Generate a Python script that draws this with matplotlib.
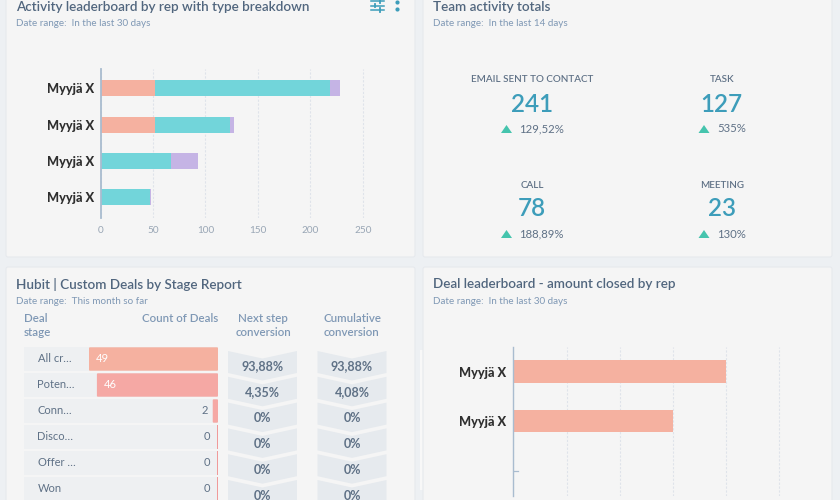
#!/usr/bin/env python3
"""HubSpot style sales dashboard with four report cards."""
import matplotlib

matplotlib.use("Agg")
import matplotlib.pyplot as plt  # noqa: E402
from matplotlib.patches import FancyBboxPatch, Polygon, Rectangle  # noqa: E402

plt.rcParams["font.family"] = ["Lato", "DejaVu Sans"]

W, H = 840, 500

# activity leaderboard
reps = ["Myyjä X", "Myyjä X", "Myyjä X", "Myyjä X"]
emails = [52, 52, 0, 0]
tasks = [167, 71, 67, 47]
calls = [9, 4, 26, 1]
activity_ticks = [0, 50, 100, 150, 200, 250]

# team totals
kpi_labels = ["EMAIL SENT TO CONTACT", "TASK", "CALL", "MEETING"]
kpi_values = ["241", "127", "78", "23"]
kpi_deltas = ["129,52%", "535%", "188,89%", "130%"]

# deals by stage
stages = ["All cr…", "Poten…", "Conn…", "Disco…", "Offer …", "Won"]
stage_counts = [49, 46, 2, 0, 0, 0]
next_step = ["93,88%", "4,35%", "0%", "0%", "0%", "0%"]
cumulative = ["93,88%", "4,08%", "0%", "0%", "0%", "0%"]

# deal leaderboard, the axis has no labels so units are arbitrary
deal_reps = ["Myyjä X", "Myyjä X", ""]
deal_amounts = [4, 3, 0]
deal_ticks = [0, 1, 2, 3, 4, 5]

SALMON = "#f5b1a0"
TEAL = "#72d5da"
PURPLE = "#c5b4e5"
PINK = "#f5a8a4"
CARD = "#f5f5f5"
PAGE = "#edf0f3"
TITLE = "#51667e"
SUB = "#7f98b5"
TICK = "#99a6b5"
NUM = "#3d9dba"
GREEN = "#45c4ad"
BODY = "#5f7186"


def px_axes(fig, left, top, right, bottom):
    return fig.add_axes([left / W, 1 - bottom / H, (right - left) / W, (bottom - top) / H])


def style_bar_axes(ax, ticks):
    ax.patch.set_alpha(0)
    for side in ["top", "right", "bottom"]:
        ax.spines[side].set_visible(False)
    ax.spines["left"].set_color("#a9bccf")
    ax.spines["left"].set_linewidth(1.3)
    ax.set_xticks(ticks)
    ax.grid(True, axis="x", color="#dfe3ea", linewidth=0.8, linestyle=(0, (2, 1.5)))
    ax.set_axisbelow(True)
    ax.invert_yaxis()


fig = plt.figure(figsize=(W / 100, H / 100), dpi=100, facecolor=PAGE)

bg = fig.add_axes([0, 0, 1, 1])
bg.set_xlim(0, W)
bg.set_ylim(H, 0)
bg.axis("off")

# cards
bg.add_patch(Rectangle((420, 350), 6, 140, fc="#f8f8f8", ec="none"))
for x0, y0, x1, y1 in [(6, -10, 415, 257), (423, -10, 832, 257), (6, 267, 415, 510), (423, 267, 832, 510)]:
    bg.add_patch(FancyBboxPatch((x0 + 2, y0 + 2), x1 - x0 - 4, y1 - y0 - 4, boxstyle="round,pad=2",
                                fc=CARD, ec="#e6e9ed", lw=0.8))

for x, y, title, sub in [
    (16, 7, "Activity leaderboard by rep with type breakdown", "Date range:  In the last 30 days"),
    (433, 7, "Team activity totals", "Date range:  In the last 14 days"),
    (16, 284.5, "Hubit | Custom Deals by Stage Report", "Date range:  This month so far"),
    (433, 284.5, "Deal leaderboard - amount closed by rep", "Date range:  In the last 30 days"),
]:
    bg.text(x, y, title, color=TITLE, fontsize=9.7, fontweight="semibold", va="center")
    bg.text(x, y + 17, sub, color=SUB, fontsize=7.15, va="center")

# filter and menu icons
for y, kx in [(1, 380), (5.5, 375), (10, 380)]:
    bg.plot([371, 384], [y, y], color=NUM, lw=1.1)
    bg.plot([kx, kx], [y - 1.8, y + 1.8], color=NUM, lw=1.3)
bg.scatter([396.5, 396.5], [2, 9], s=9, color=NUM, lw=0)

# activity leaderboard
ax1 = px_axes(fig, 100.5, 69, 368, 218)
style_bar_axes(ax1, activity_ticks)
lefts = [0, 0, 0, 0]
for vals, col in [(emails, SALMON), (tasks, TEAL), (calls, PURPLE)]:
    ax1.barh(range(len(reps)), vals, left=lefts, height=0.44, color=col)
    lefts = [a + b for a, b in zip(lefts, vals)]
ax1.set_xlim(0, 255)
ax1.set_ylim(3.57, -0.53)
ax1.set_yticks(range(len(reps)), reps, fontsize=9.2, fontweight="black", color="#2f2f2f")
ax1.tick_params(axis="y", length=0, pad=4.5)
ax1.tick_params(axis="x", length=0, pad=6, labelsize=7.2, labelcolor=TICK)

# team totals
kpi_x = [532.3, 721.7, 532.3, 721.7]
kpi_y = [80, 80, 185, 185]
tri_x = [506.5, 704, 506.5, 704]
for i, label in enumerate(kpi_labels):
    bg.text(kpi_x[i], kpi_y[i], label, color=BODY, fontsize=7.1, fontweight="semibold", ha="center", va="center")
    bg.text(kpi_x[i], kpi_y[i] + 24, kpi_values[i], color=NUM, fontsize=17.5, fontweight="semibold",
            ha="center", va="center")
    ty = kpi_y[i] + 49
    bg.add_patch(Polygon([(tri_x[i] - 5.5, ty + 4), (tri_x[i] + 5.5, ty + 4), (tri_x[i], ty - 4)], fc=GREEN, ec="none"))
    bg.text(tri_x[i] + 13, ty, kpi_deltas[i], color=BODY, fontsize=8.2, va="center")

# funnel headers
bg.text(24, 318, "Deal", color=SUB, fontsize=8.3, va="center", fontweight="semibold")
bg.text(24, 332.5, "stage", color=SUB, fontsize=8.3, va="center", fontweight="semibold")
bg.text(218, 318, "Count of Deals", color=SUB, fontsize=8.3, va="center", ha="right", fontweight="semibold")
for cx, l1, l2 in [(263, "Next step", "conversion"), (352, "Cumulative", "conversion")]:
    bg.text(cx, 318.5, l1, color=SUB, fontsize=8.3, va="center", ha="center", fontweight="semibold")
    bg.text(cx, 332.5, l2, color=SUB, fontsize=8.3, va="center", ha="center", fontweight="semibold")

# funnel rows
row_h = 23.4
step = 26
px_per_deal = 129 / 49
for i, stage in enumerate(stages):
    top = 347.3 + i * step
    bg.add_patch(Rectangle((24, top), 194, row_h, fc="#eef0f2", ec="none"))
    bg.text(37.5, top + row_h / 2, stage, color=BODY, fontsize=8, va="center")
    w = stage_counts[i] * px_per_deal
    col = SALMON if i == 0 else PINK
    if stage_counts[i] > 10:
        bg.add_patch(FancyBboxPatch((218 - w + 1, top + 1), w - 2, row_h - 2, boxstyle="round,pad=1", fc=col, ec="none"))
        bg.text(218 - w + 6.5, top + row_h / 2, str(stage_counts[i]), color="white", fontsize=8, va="center")
    elif w:
        bg.add_patch(FancyBboxPatch((218 - w + 1, top + 1), w - 2, row_h - 2, boxstyle="round,pad=1", fc=col, ec="none"))
        bg.text(218 - w - 4.5, top + row_h / 2, str(stage_counts[i]), color=BODY, fontsize=8, va="center", ha="right")
    else:
        bg.add_patch(Rectangle((217, top), 1.2, row_h, fc="#f09a9a", ec="none"))
        bg.text(210.5, top + row_h / 2, str(stage_counts[i]), color=BODY, fontsize=8, va="center", ha="right")

# conversion chevrons
for x0, texts in [(228, next_step), (317.5, cumulative)]:
    for i, txt in enumerate(texts):
        t = 351 + i * 25.8
        xm = x0 + 34.5
        x1 = x0 + 69
        bg.add_patch(Polygon([(x0, t), (xm, t + 7.5), (x1, t), (x1, t + 22), (xm, t + 29.5), (x0, t + 22)],
                             fc="#e6eaee", ec="none"))
        bg.text(xm, t + 15.5, txt, color=BODY, fontsize=9, fontweight="bold", ha="center", va="center")

# deal leaderboard
ax2 = px_axes(fig, 513.3, 346.7, 790, 495.7)
style_bar_axes(ax2, deal_ticks)
ax2.spines["left"].set_linewidth(1.0)
ax2.barh(range(len(deal_reps)), deal_amounts, height=0.45, color=SALMON)
ax2.set_xlim(0, 5.2)
ax2.set_ylim(2.5, -0.5)
ax2.set_yticks(range(len(deal_reps)), deal_reps, fontsize=9.2, fontweight="black", color="#2f2f2f")
ax2.tick_params(axis="y", length=0, pad=5.5)
ax2.tick_params(axis="x", length=0, labelbottom=False)
ax2.plot([0, 0.09], [2, 2], color="#a9bccf", lw=0.9)

fig.savefig("out.png", dpi=100, facecolor=PAGE)
